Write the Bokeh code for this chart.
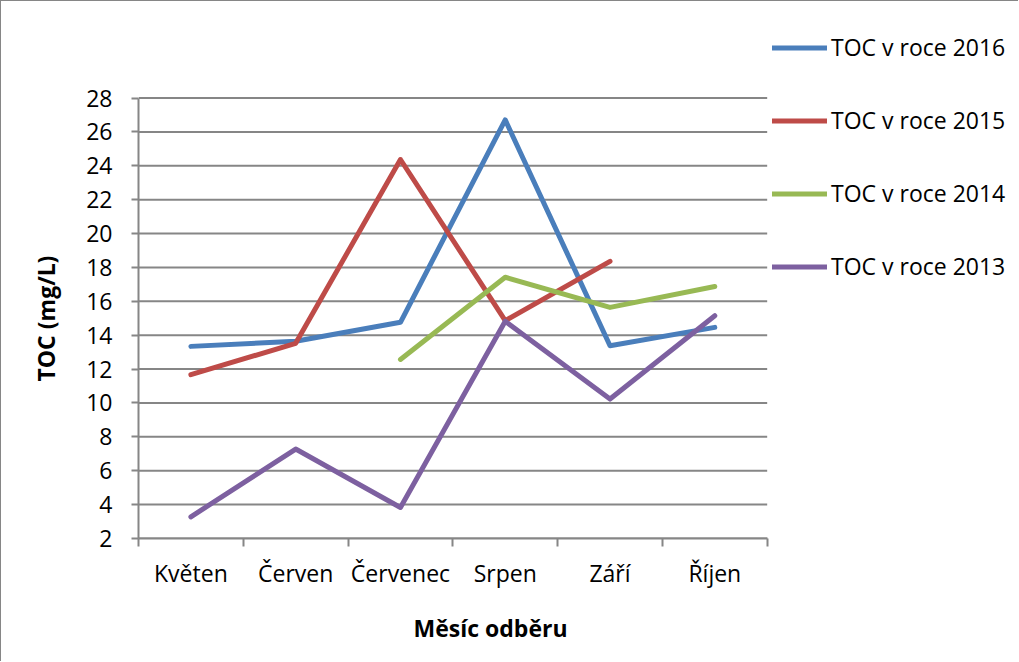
import math
from bokeh.plotting import figure
from bokeh.models import Range1d, FixedTicker, Legend, LegendItem, Title
from bokeh.embed import file_html
from bokeh.resources import INLINE

nan = float("nan")

months = ["Květen", "Červen", "Červenec", "Srpen", "Září", "Říjen"]
toc_2016 = [13.34, 13.64, 14.76, 26.71, 13.38, 14.46]
toc_2015 = [11.67, 13.52, 24.37, 14.86, 18.36, nan]
toc_2014 = [nan, nan, 12.57, 17.42, 15.64, 16.87]
toc_2013 = [3.28, 7.28, 3.83, 14.82, 10.23, 15.15]
series_labels = ["TOC v roce 2016", "TOC v roce 2015", "TOC v roce 2014", "TOC v roce 2013"]
series_colors = ["#4A7EBB", "#BE4B48", "#98B954", "#7D60A0"]
y_ticks = list(range(2, 29, 2))
y_title = "TOC (mg/L)"
x_title = "Měsíc odběru"

FONT = "Open Sans"
GREY = "#868686"

n = len(months)
x_centers = [i + 0.5 for i in range(n)]
x_bounds = list(range(n + 1))
y_lo, y_hi = min(y_ticks), max(y_ticks)

# layout (pixels): the frame is extended to the right/top so that the legend,
# which sits outside the plotting area, is not clipped
W, H = 1018, 661
LEFT, BOTTOM = 137, 124
frame_w = W - LEFT
frame_h = H - BOTTOM
cat_px = 104.78            # pixel width of one month
top_px = 96.5              # distance from frame top to the y=28 gridline
y_px = (frame_h - top_px) / (y_hi - y_lo)
x_end = frame_w / cat_px
y_end = y_hi + top_px / y_px

p = figure(width=W, height=H, output_backend="svg", toolbar_location=None,
           x_range=Range1d(0, x_end), y_range=Range1d(y_lo, y_end),
           min_border_left=LEFT, min_border_right=0, min_border_top=0, min_border_bottom=BOTTOM)
p.styles = {"border-left": "1px solid " + GREY, "border-top": "1px solid " + GREY}
p.outline_line_color = None
p.background_fill_color = "white"
p.border_fill_color = "white"

# x axis
xa = p.xaxis[0]
xa.bounds = (0, n)
xa.ticker = FixedTicker(ticks=x_centers, minor_ticks=x_bounds)
xa.major_label_overrides = {c: m for c, m in zip(x_centers, months)}
xa.major_tick_out = 0
xa.major_tick_in = 0
xa.minor_tick_out = 8
xa.minor_tick_in = 0
xa.minor_tick_line_color = GREY
xa.minor_tick_line_width = 2
xa.axis_line_color = GREY
xa.axis_line_width = 2
xa.major_label_text_font = FONT
xa.major_label_text_font_size = "23px"
xa.major_label_text_color = "black"
xa.major_label_standoff = 10

# y axis
ya = p.yaxis[0]
ya.bounds = (y_lo, y_hi)
ya.ticker = FixedTicker(ticks=y_ticks, minor_ticks=[])
ya.major_tick_out = 7
ya.major_tick_in = 0
ya.major_tick_line_color = GREY
ya.major_tick_line_width = 2
ya.axis_line_color = GREY
ya.axis_line_width = 2
ya.major_label_text_font = FONT
ya.major_label_text_font_size = "23px"
ya.major_label_text_color = "black"
ya.major_label_standoff = 19

p.xgrid.visible = False
p.ygrid.visible = False

# horizontal gridlines limited to the month area
p.segment(x0=[0] * len(y_ticks), x1=[n] * len(y_ticks), y0=y_ticks, y1=y_ticks,
          line_color=GREY, line_width=2)

renderers = []
for vals, col in zip([toc_2016, toc_2015, toc_2014, toc_2013], series_colors):
    r = p.line(x_centers, vals, line_color=col, line_width=5,
               line_cap="round", line_join="round")
    renderers.append(r)

legend = Legend(items=[LegendItem(label=l, renderers=[r]) for l, r in zip(series_labels, renderers)],
                location=(634, 256), glyph_width=55, glyph_height=31, label_height=31,
                spacing=41, padding=0, margin=0, border_line_color=None,
                background_fill_alpha=0, label_text_font=FONT, label_text_font_size="23px",
                label_text_color="black", label_standoff=4)
p.add_layout(legend)

ty = Title(text=y_title, align="left", offset=157, text_font=FONT, text_font_size="23px",
           text_font_style="bold", text_color="black", standoff=44)
p.add_layout(ty, "left")

tx = Title(text=x_title, align="left", offset=275, text_font=FONT, text_font_size="23px",
           text_font_style="bold", text_color="black", standoff=37)
p.add_layout(tx, "below")

open("out.html", "w").write(file_html(p, INLINE))
